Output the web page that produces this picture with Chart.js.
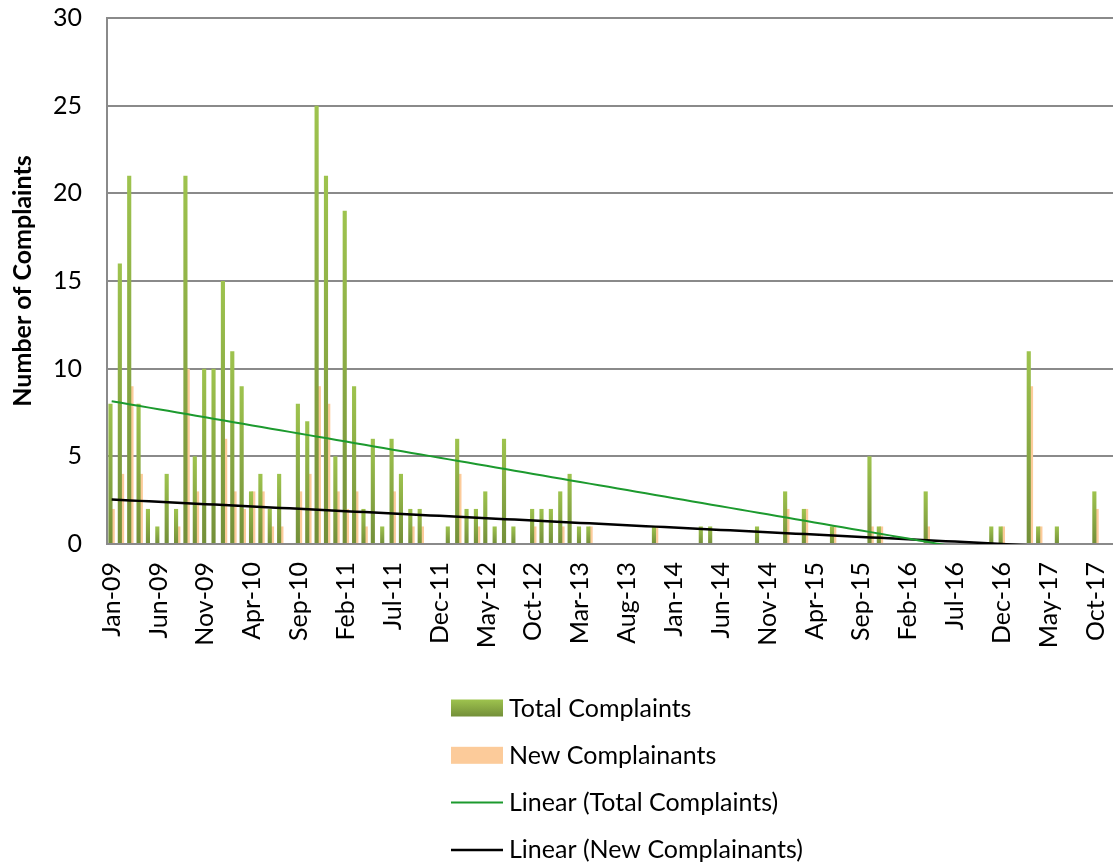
<!DOCTYPE html>
<html>
<head>
<meta charset="utf-8">
<script src="https://cdn.jsdelivr.net/npm/chart.js@4.4.1/dist/chart.umd.min.js"></script>
<style>
  html, body { margin: 0; padding: 0; overflow: hidden; background: #ffffff; }
  #wrap { position: relative; width: 1119px; height: 865px; }
</style>
</head>
<body>
<div id="wrap"><canvas id="c" width="1119" height="865"></canvas></div>
<script>
// ---------- DATA ----------
const categories = [
  'Jan-09','Feb-09','Mar-09','Apr-09','May-09','Jun-09','Jul-09','Aug-09','Sep-09','Oct-09','Nov-09','Dec-09',
  'Jan-10','Feb-10','Mar-10','Apr-10','May-10','Jun-10','Jul-10','Aug-10','Sep-10','Oct-10','Nov-10','Dec-10',
  'Jan-11','Feb-11','Mar-11','Apr-11','May-11','Jun-11','Jul-11','Aug-11','Sep-11','Oct-11','Nov-11','Dec-11',
  'Jan-12','Feb-12','Mar-12','Apr-12','May-12','Jun-12','Jul-12','Aug-12','Sep-12','Oct-12','Nov-12','Dec-12',
  'Jan-13','Feb-13','Mar-13','Apr-13','May-13','Jun-13','Jul-13','Aug-13','Sep-13','Oct-13','Nov-13','Dec-13',
  'Jan-14','Feb-14','Mar-14','Apr-14','May-14','Jun-14','Jul-14','Aug-14','Sep-14','Oct-14','Nov-14','Dec-14',
  'Jan-15','Feb-15','Mar-15','Apr-15','May-15','Jun-15','Jul-15','Aug-15','Sep-15','Oct-15','Nov-15','Dec-15',
  'Jan-16','Feb-16','Mar-16','Apr-16','May-16','Jun-16','Jul-16','Aug-16','Sep-16','Oct-16','Nov-16','Dec-16',
  'Jan-17','Feb-17','Mar-17','Apr-17','May-17','Jun-17','Jul-17','Aug-17','Sep-17','Oct-17','Nov-17','Dec-17'
];

const tickLabels = [
  'Jan-09','Jun-09','Nov-09','Apr-10','Sep-10','Feb-11','Jul-11','Dec-11','May-12','Oct-12','Mar-13',
  'Aug-13','Jan-14','Jun-14','Nov-14','Apr-15','Sep-15','Feb-16','Jul-16','Dec-16','May-17','Oct-17'
];

const totalComplaints = [
  8,16,21,8,2,1,4,2,21,5,10,10,
  15,11,9,3,4,2,4,0,8,7,25,21,
  5,19,9,2,6,1,6,4,2,2,0,0,
  1,6,2,2,3,1,6,1,0,2,2,2,
  3,4,1,1,0,0,0,0,0,0,1,0,
  0,0,0,1,1,0,0,0,0,1,0,0,
  3,0,2,0,0,1,0,0,0,5,1,0,
  0,0,0,3,0,0,0,0,0,0,1,1,
  0,0,11,1,0,1,0,0,0,3,0,0
];

const newComplainants = [
  2,4,9,4,0,0,0,1,10,3,0,0,
  6,3,2,3,3,1,1,0,3,4,9,8,
  3,2,3,1,0,0,3,0,1,1,0,0,
  0,4,0,1,0,0,0,0,0,1,0,0,
  1,0,0,1,0,0,0,0,0,0,1,0,
  0,0,0,0,0,0,0,0,0,0,0,0,
  2,0,2,0,0,1,0,0,0,1,1,0,
  0,0,0,1,0,0,0,0,0,0,0,1,
  0,0,9,1,0,0,0,0,0,2,0,0
];

const seriesNames = ['Total Complaints', 'New Complainants', 'Linear (Total Complaints)', 'Linear (New Complainants)'];
const yAxisTitle = 'Number of Complaints';
const yTicks = [0, 5, 10, 15, 20, 25, 30];

// Least-squares linear trendline (as Excel's "Linear" trendline), x = 1..n
function linearTrend(vals) {
  const n = vals.length;
  let sx = 0, sy = 0, sxy = 0, sxx = 0;
  for (let i = 0; i < n; i++) {
    const x = i + 1, y = vals[i];
    sx += x; sy += y; sxy += x * y; sxx += x * x;
  }
  const slope = (n * sxy - sx * sy) / (n * sxx - sx * sx);
  const intercept = (sy - slope * sx) / n;
  return vals.map((_, i) => intercept + slope * (i + 1));
}

// ---------- STYLE ----------
const FONT = 'Lato, "Open Sans", sans-serif';
const FS = 25;
const GRID = '#8a8a8a';
const GREEN_TOP = '#9ec34e';
const GREEN_BOTTOM = '#738f39';
const ORANGE = '#fccb9a';
const TREND_GREEN = '#1c9a2e';
const TREND_BLACK = '#000000';

function greenFill(context) {
  const chart = context.chart;
  const area = chart.chartArea;
  if (!area || context.type !== 'data') return GREEN_TOP;
  const v = context.raw;
  const ys = chart.scales.y;
  const top = ys.getPixelForValue(v || 0);
  const base = ys.getPixelForValue(0);
  if (base - top < 1) return GREEN_BOTTOM;
  const g = chart.ctx.createLinearGradient(0, top, 0, base);
  g.addColorStop(0, GREEN_TOP);
  g.addColorStop(1, GREEN_BOTTOM);
  return g;
}

// Vertical legend below the axis, drawn on the chart canvas
const verticalLegend = {
  id: 'verticalLegend',
  afterDraw(chart) {
    const ctx = chart.ctx;
    const ds = chart.data.datasets;
    const x0 = 451, boxW = 52, boxH = 17, textX = 509, firstY = 708, gap = 47.3;
    ctx.save();
    ctx.font = FS + 'px ' + FONT;
    ctx.textAlign = 'left';
    ctx.textBaseline = 'alphabetic';
    ds.forEach((d, i) => {
      const cy = firstY + i * gap;
      if (d.type === 'bar') {
        if (i === 0) {
          const g = ctx.createLinearGradient(0, cy - boxH / 2, 0, cy + boxH / 2);
          g.addColorStop(0, GREEN_TOP); g.addColorStop(1, GREEN_BOTTOM);
          ctx.fillStyle = g;
        } else {
          ctx.fillStyle = d.backgroundColor;
        }
        ctx.fillRect(x0, cy - boxH / 2, boxW, boxH);
      } else {
        ctx.strokeStyle = d.borderColor;
        ctx.lineWidth = d.borderWidth;
        ctx.beginPath();
        ctx.moveTo(x0, cy);
        ctx.lineTo(x0 + boxW, cy);
        ctx.stroke();
      }
      ctx.fillStyle = '#000';
      ctx.fillText(d.label, textX, cy + 8.5);
    });
    ctx.restore();
  }
};

new Chart(document.getElementById('c'), {
  type: 'bar',
  data: {
    labels: categories,
    datasets: [
      { type: 'bar', label: seriesNames[0], data: totalComplaints, backgroundColor: greenFill,
        categoryPercentage: 0.52, barPercentage: 1.7, order: 1 },
      { type: 'bar', label: seriesNames[1], data: newComplainants, backgroundColor: ORANGE,
        categoryPercentage: 0.52, barPercentage: 1.55, order: 1 },
      { type: 'line', label: seriesNames[2], data: linearTrend(totalComplaints), borderColor: TREND_GREEN,
        borderWidth: 2, pointRadius: 0, fill: false, tension: 0, order: 0 },
      { type: 'line', label: seriesNames[3], data: linearTrend(newComplainants), borderColor: TREND_BLACK,
        borderWidth: 2.5, pointRadius: 0, fill: false, tension: 0, order: 0 }
    ]
  },
  options: {
    responsive: false,
    animation: false,
    devicePixelRatio: 1,
    layout: { padding: { top: 18, left: 0, right: 0, bottom: 0 } },
    plugins: { legend: { display: false }, tooltip: { enabled: false } },
    scales: {
      x: {
        grid: { display: false, drawTicks: false },
        border: { display: true, color: GRID, width: 2 },
        ticks: {
          autoSkip: false, maxRotation: 90, minRotation: 90, padding: 18,
          color: '#000', font: { family: FONT, size: FS },
          callback: function (val) {
            const l = this.getLabelForValue(val);
            return tickLabels.includes(l) ? l : '';
          }
        },
        afterFit: (s) => { s.height = 865 - 544; s.paddingLeft = 0; s.paddingRight = 0; }
      },
      y: {
        min: 0, max: 30,
        afterBuildTicks: (s) => { s.ticks = yTicks.map(v => ({ value: v })); },
        ticks: { padding: 25, color: '#000', font: { family: FONT, size: FS } },
        grid: { color: GRID, lineWidth: 2, drawTicks: false },
        border: { display: true, color: GRID, width: 2 },
        title: { display: true, text: yAxisTitle, color: '#000',
          font: { family: FONT, size: FS, weight: 'bold' }, padding: { top: 8, bottom: 0 } },
        afterFit: (s) => { s.width = 107; s.paddingTop = 0; s.paddingBottom = 0; }
      }
    }
  },
  plugins: [verticalLegend]
});
</script>
</body>
</html>
